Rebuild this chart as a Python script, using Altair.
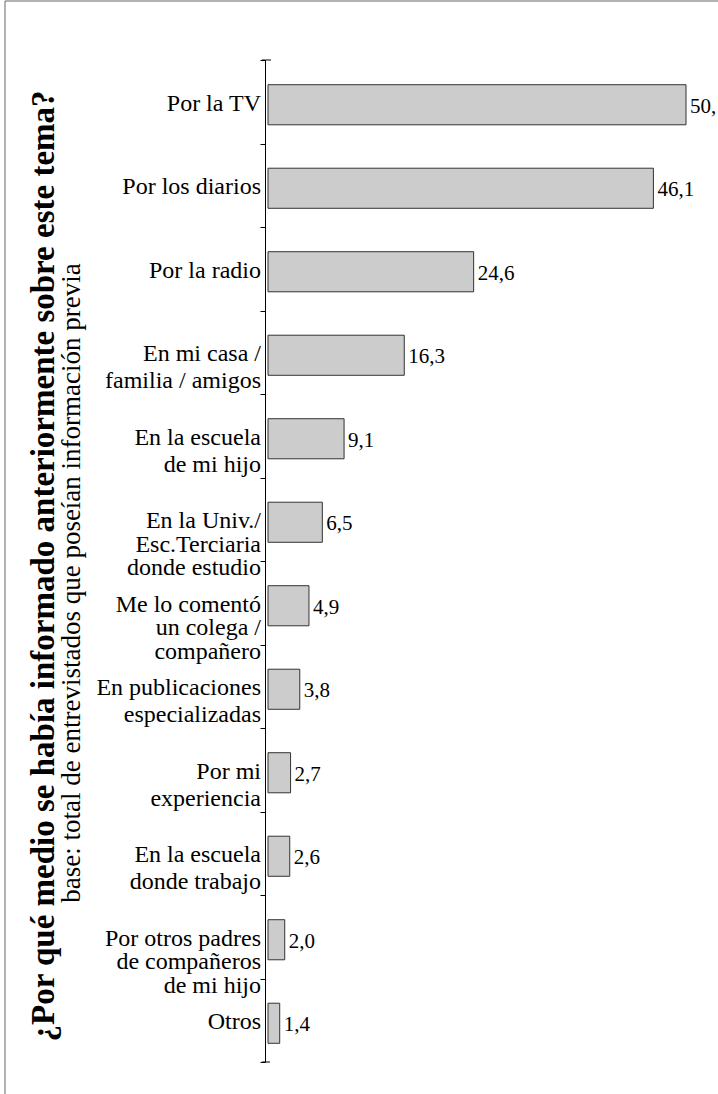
import altair as alt
import pandas as pd

categories = [
    "Por la TV",
    "Por los diarios",
    "Por la radio",
    "En mi casa /\nfamilia / amigos",
    "En la escuela\nde mi hijo",
    "En la Univ./\nEsc.Terciaria\ndonde estudio",
    "Me lo comentó\nun colega /\ncompañero",
    "En publicaciones\nespecializadas",
    "Por mi\nexperiencia",
    "En la escuela\ndonde trabajo",
    "Por otros padres\nde compañeros\nde mi hijo",
    "Otros",
]
values = [50.0, 46.1, 24.6, 16.3, 9.1, 6.5, 4.9, 3.8, 2.7, 2.6, 2.0, 1.4]
value_labels = ["50,", "46,1", "24,6", "16,3", "9,1", "6,5", "4,9", "3,8", "2,7", "2,6", "2,0", "1,4"]

title_text = "¿Por qué medio se había informado anteriormente sobre este tema?"
subtitle_text = "base: total de entrevistados que poseían información previa"

df = pd.DataFrame({
    "cat": categories,
    "value": values,
    "vlabel": value_labels,
    "lines": [c.count("\n") + 1 for c in categories],
})

FONT = "'Liberation Serif', 'Times New Roman', serif"

y_enc = alt.Y(
    "cat:N",
    sort=categories,
    scale=alt.Scale(paddingInner=0, paddingOuter=0),
    axis=alt.Axis(
        title=None, labels=False, domainColor="black", tickColor="black",
        tickSize=5, offset=3, tickBand="extent", grid=False, domainWidth=1,
    ),
)
x_enc = alt.X("value:Q", scale=alt.Scale(domain=[0, 50], nice=False, zero=True), axis=None)

base = alt.Chart(df)

bars = base.mark_bar(
    height={"band": 0.48}, fill="#cccccc", stroke="#333333", strokeWidth=1, yOffset=3
).encode(x=x_enc, y=y_enc)

vals = base.mark_text(
    align="left", baseline="middle", dx=4, dy=5, fontSize=21, font=FONT, color="black"
).encode(x=x_enc, y=y_enc, text="vlabel:N")

labels_a = base.transform_filter("datum.lines < 3").mark_text(
    align="right", baseline="middle", fontSize=24, font=FONT, color="black",
    lineBreak="\n", lineHeight=27, dy=2,
).encode(x=alt.value(-7), y=y_enc, text="cat:N")

labels_b = base.transform_filter("datum.lines >= 3").mark_text(
    align="right", baseline="middle", fontSize=24, font=FONT, color="black",
    lineBreak="\n", lineHeight=23.5, dy=2,
).encode(x=alt.value(-7), y=y_enc, text="cat:N")

title = alt.Chart(pd.DataFrame({"t": [title_text]})).mark_text(
    angle=270, align="center", baseline="middle", fontSize=33, fontWeight="bold",
    font=FONT, color="black",
).encode(x=alt.value(-224), y=alt.value(506), text="t:N")

subtitle = alt.Chart(pd.DataFrame({"t": [subtitle_text]})).mark_text(
    angle=270, align="center", baseline="middle", fontSize=27,
    font=FONT, color="black",
).encode(x=alt.value(-196), y=alt.value(523), text="t:N")

frame = alt.Chart(pd.DataFrame({"a": [0]})).mark_rect(
    fillOpacity=0, stroke="#666666", strokeWidth=1
).encode(x=alt.value(-263), x2=alt.value(600), y=alt.value(-59), y2=alt.value(1200))

end_top = alt.Chart(pd.DataFrame({"a": [0]})).mark_rule(color="black").encode(
    x=alt.value(-6), x2=alt.value(3), y=alt.value(0)
)
end_bot = alt.Chart(pd.DataFrame({"a": [0]})).mark_rule(color="black").encode(
    x=alt.value(-6), x2=alt.value(2), y=alt.value(1002)
)

chart = alt.layer(
    frame, bars, vals, labels_a, labels_b, title, subtitle, end_top, end_bot
).properties(
    width=418, height=1002,
    autosize=alt.AutoSizeParams(type="none"),
    padding={"left": 268, "top": 60, "right": 32, "bottom": 32},
).configure(
    background="white",
    view=alt.ViewConfig(strokeWidth=0, stroke="transparent"),
)

chart.save("out.html", embed_options={"renderer": "svg", "actions": False})
